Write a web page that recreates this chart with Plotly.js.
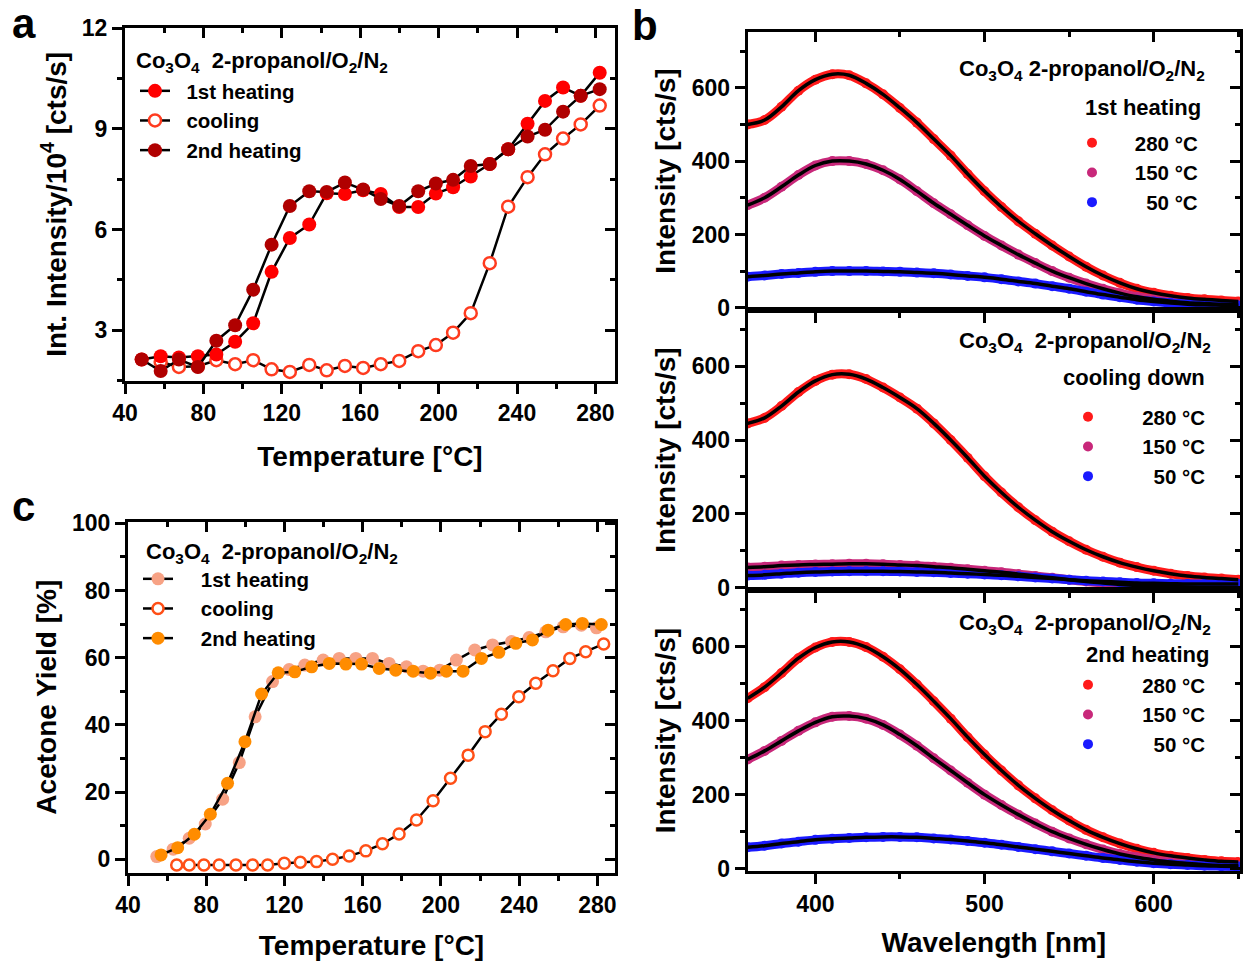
<!DOCTYPE html>
<html><head><meta charset="utf-8">
<script src="https://cdn.plot.ly/plotly-3.0.1.min.js"></script>
<style>html,body{margin:0;padding:0;background:#fff}#chart{width:1244px;height:961px}</style>
</head><body><div id="chart"></div>
<script>
// ---------- Panel a: integrated intensity (x 10^4 cts/s) ----------
const aHeat1T = [48.5, 58.2, 67.5, 77.2, 86.6, 96.2, 105.4, 114.8, 124.1, 134.0, 142.9, 152.2, 161.5, 170.5, 179.9, 189.6, 198.6, 207.4, 216.4, 226.1, 235.5, 245.4, 254.3, 263.5, 272.5, 282.2];
const aHeat1  = [2.13, 2.23, 2.19, 2.23, 2.28, 2.66, 3.21, 4.74, 5.75, 6.15, 7.08, 7.06, 7.17, 7.06, 6.67, 6.67, 7.07, 7.26, 7.58, 7.95, 8.39, 9.15, 9.83, 10.23, 9.98, 10.67];
const aHeat2T = [48.5, 58.2, 67.5, 77.2, 86.6, 96.2, 105.4, 114.8, 124.1, 134.0, 142.9, 152.2, 161.5, 170.5, 179.9, 189.6, 198.6, 207.4, 216.4, 226.1, 235.5, 245.4, 254.3, 263.5, 272.5, 282.2];
const aHeat2  = [2.13, 1.79, 2.13, 1.91, 2.69, 3.15, 4.21, 5.55, 6.70, 7.14, 7.12, 7.40, 7.19, 6.91, 6.70, 7.14, 7.37, 7.48, 7.89, 7.95, 8.39, 8.77, 8.97, 9.51, 9.98, 10.18];
const aCoolT  = [58.2, 67.5, 77.2, 86.6, 96.2, 105.4, 114.8, 124.1, 134.0, 142.9, 152.2, 161.5, 170.5, 179.9, 189.6, 198.6, 207.4, 216.4, 226.1, 235.5, 245.4, 254.3, 263.5, 272.5, 282.2];
const aCool   = [2.06, 1.91, 1.93, 2.11, 1.99, 2.11, 1.84, 1.76, 1.97, 1.81, 1.94, 1.88, 1.99, 2.09, 2.38, 2.56, 2.93, 3.51, 5.00, 6.68, 7.56, 8.24, 8.71, 9.13, 9.69];

// ---------- Panel c: acetone yield (%) ----------
const cHeat1T = [54.7, 63.1, 71.3, 79.5, 88.4, 96.9, 105.0, 113.9, 122.4, 130.4, 139.8, 148.0, 156.5, 165.0, 173.5, 182.4, 190.9, 199.4, 207.9, 217.3, 226.4, 236.1, 245.1, 253.6, 262.5, 271.8, 279.5];
const cHeat1  = [0.8, 3.0, 6.25, 10.5, 17.9, 28.8, 42.4, 52.9, 56.5, 57.8, 59.3, 59.8, 59.8, 59.8, 58.3, 57.3, 56.0, 56.3, 59.3, 62.3, 63.8, 64.8, 66.0, 67.7, 69.2, 69.7, 68.9];
const cHeat2T = [56.9, 65.4, 73.9, 82.1, 90.9, 99.8, 108.3, 116.8, 125.3, 133.9, 142.9, 151.4, 159.4, 168.4, 176.9, 185.8, 194.7, 202.8, 211.3, 220.7, 229.6, 238.3, 246.8, 254.8, 263.8, 272.3, 282.0];
const cHeat2  = [1.28, 3.45, 7.44, 13.4, 22.6, 35.0, 49.2, 55.5, 55.8, 57.3, 58.3, 58.1, 58.1, 56.8, 56.3, 56.0, 55.4, 56.0, 56.0, 59.8, 61.6, 64.3, 65.3, 68.2, 69.9, 70.2, 69.9];
const cCoolT  = [64.9, 71.3, 78.8, 86.6, 95.2, 103.7, 111.4, 119.9, 128.1, 136.4, 144.6, 153.1, 161.6, 170.1, 178.6, 187.5, 196.0, 204.9, 213.9, 222.6, 230.9, 239.8, 248.5, 257.3, 265.9, 274.0, 283.2];
const cCool   = [-1.7, -1.7, -1.7, -1.7, -1.7, -1.7, -1.7, -1.2, -0.9, -0.7, 0.0, 1.0, 2.5, 4.6, 7.5, 11.7, 17.4, 24.1, 31.0, 38.0, 43.2, 48.4, 52.4, 56.1, 59.8, 61.8, 64.1];

// ---------- Panel b: PL spectra (cts/s) ----------
const wavelength = [360, 370, 380, 390, 400, 410, 420, 430, 440, 450, 460, 470, 480, 490, 500, 510, 520, 530, 540, 550, 560, 570, 580, 590, 600, 610, 620, 630, 640, 650];
const b1_280 = [500, 512, 548, 592, 622, 637, 634, 612, 582, 545, 505, 460, 415, 365, 318, 275, 236, 202, 170, 140, 112, 88, 68, 52, 41, 33, 27, 23, 20, 17];
const b1_150 = [280, 300, 330, 362, 388, 400, 400, 392, 375, 350, 318, 285, 255, 225, 196, 170, 145, 122, 100, 82, 66, 52, 40, 30, 23, 18, 14, 12, 10, 9];
const b1_50  = [85, 88, 92, 95, 98, 100, 100, 100, 99, 98, 96, 94, 91, 87, 83, 78, 72, 66, 59, 52, 44, 36, 29, 22, 17, 13, 10, 8, 7, 6];
const b2_280 = [445, 460, 492, 530, 560, 577, 578, 565, 542, 515, 485, 445, 400, 352, 302, 258, 218, 183, 152, 126, 103, 84, 68, 56, 46, 38, 32, 28, 25, 22];
const b2_150 = [55, 57, 60, 62, 63, 64, 65, 65, 64, 62, 60, 57, 54, 50, 46, 42, 37, 32, 27, 22, 17, 13, 9, 6, 4, 3, 2, 1, 1, 0];
const b2_50  = [33, 35, 38, 41, 43, 44, 45, 45, 45, 44, 43, 42, 40, 38, 36, 34, 31, 28, 25, 22, 19, 17, 15, 13, 12, 11, 10, 10, 10, 10];
const b3_280 = [460, 490, 528, 568, 597, 612, 612, 598, 572, 538, 497, 452, 405, 355, 308, 265, 225, 190, 158, 130, 105, 85, 68, 54, 43, 35, 29, 24, 20, 18];
const b3_150 = [295, 318, 345, 372, 395, 410, 412, 405, 388, 362, 332, 298, 265, 232, 200, 172, 146, 122, 100, 82, 66, 52, 40, 31, 24, 18, 14, 11, 9, 8];
const b3_50  = [58, 62, 68, 73, 78, 81, 83, 85, 86, 86, 85, 82, 79, 75, 70, 65, 59, 53, 47, 41, 35, 29, 24, 19, 15, 12, 10, 8, 7, 6];

const seriesNames = ['1st heating', 'cooling', '2nd heating'];
const tempLabels = ['280 °C', '150 °C', '50 °C'];

// ---------- helpers ----------
const W = 1244, H = 961;
const px = v => v / W, py = v => 1 - v / H;
const FONT = 'Liberation Sans, Arial, Helvetica, sans-serif';
const fnt = (s, c) => ({family: FONT, size: s, color: c || '#000', weight: 'bold'});
const NB = '\u00a0';
const nb = n => NB.repeat(n);
const LEGF = 20.5;

function baseAx(o) {
  const a = {
    range: o.range, autorange: false, tickmode: 'linear', tick0: o.tick0, dtick: o.dtick,
    ticks: 'outside', ticklen: 10, tickwidth: 3, tickcolor: '#000',
    minor: {tick0: o.tick0, dtick: o.mdtick, ticks: 'outside', ticklen: 5, tickwidth: 3, tickcolor: '#000'},
    showline: true, linewidth: 3, linecolor: '#000', showgrid: false, zeroline: false,
    domain: o.domain, anchor: o.anchor, showticklabels: o.labels !== false,
    tickfont: fnt(23), fixedrange: true
  };
  if (o.title) a.title = {text: o.title, font: fnt(28), standoff: o.standoff || 8};
  return a;
}
function overAx(o, over, anchor, side) {
  return {
    range: o.range, autorange: false, tickmode: 'linear', tick0: o.tick0, dtick: o.dtick,
    ticks: 'inside', ticklen: 10, tickwidth: 3, tickcolor: '#000',
    minor: {tick0: o.tick0, dtick: o.mdtick, ticks: 'inside', ticklen: 5, tickwidth: 3, tickcolor: '#000'},
    showline: true, linewidth: 3, linecolor: '#000', showgrid: false, zeroline: false,
    overlaying: over, anchor: anchor, side: side, showticklabels: false, fixedrange: true
  };
}

const layout = {
  width: W, height: H, margin: {l: 0, r: 0, t: 0, b: 0},
  paper_bgcolor: '#fff', plot_bgcolor: 'rgba(0,0,0,0)',
  font: fnt(22), hovermode: false, showlegend: true,
  annotations: []
};

// axis specs
const axA_x = {range: [40, 290], tick0: 40, dtick: 40, mdtick: 20, domain: [px(125), px(615)], anchor: 'y', title: 'Temperature [°C]', standoff: 22};
const axA_y = {range: [1.5, 12], tick0: 0, dtick: 3, mdtick: 1.5, domain: [py(380.7), py(28)], anchor: 'x', title: 'Int. Intensity/10<sup>4</sup> [cts/s]'};
const axC_x = {range: [40, 289], tick0: 40, dtick: 40, mdtick: 20, domain: [px(128), px(615)], anchor: 'y3', title: 'Temperature [°C]', standoff: 19};
const axC_y = {range: [-4, 100.5], tick0: 0, dtick: 20, mdtick: 10, domain: [py(872.7), py(521.7)], anchor: 'x3', title: 'Acetone Yield [%]'};
layout.xaxis = baseAx(axA_x); layout.yaxis = baseAx(axA_y);
layout.xaxis2 = overAx(axA_x, 'x', 'y', 'top'); layout.yaxis2 = overAx(axA_y, 'y', 'x', 'right');
layout.xaxis3 = baseAx(axC_x); layout.yaxis3 = baseAx(axC_y);
layout.xaxis4 = overAx(axC_x, 'x3', 'y3', 'top'); layout.yaxis4 = overAx(axC_y, 'y3', 'x3', 'right');

// overlay axes (top / right frame with inward ticks) need a subplot to be drawn
const frameHosts = [['x2', 'y'], ['x', 'y2'], ['x4', 'y3'], ['x3', 'y4']];

const bDomains = [[py(310), py(32)], [py(590), py(310)], [py(871), py(590)]];
for (let i = 0; i < 3; i++) {
  const xi = 5 + 2 * i, yi = 5 + 2 * i;
  const ax = {range: [360, 651], tick0: 0, dtick: 100, mdtick: 50, domain: [px(747.7), px(1240)], anchor: 'y' + yi,
              labels: i === 2, title: i === 2 ? 'Wavelength [nm]' : null, standoff: 17};
  const ay = {range: [-6, 752], tick0: 0, dtick: 200, mdtick: 100, domain: bDomains[i], anchor: 'x' + xi, title: 'Intensity [cts/s]'};
  layout['xaxis' + xi] = baseAx(ax);
  layout['yaxis' + yi] = baseAx(ay);
  layout['xaxis' + (xi + 1)] = overAx(ax, 'x' + xi, 'y' + yi, 'top');
  layout['yaxis' + (yi + 1)] = overAx(ay, 'y' + yi, 'x' + xi, 'right');
  frameHosts.push(['x' + (xi + 1), 'y' + yi], ['x' + xi, 'y' + (yi + 1)]);
}

// legends
const legBase = {xanchor: 'left', yanchor: 'top', font: fnt(LEGF), bgcolor: 'rgba(0,0,0,0)', borderwidth: 0,
                 tracegroupgap: 0, itemclick: false, itemdoubleclick: false, traceorder: 'normal'};
layout.legend  = Object.assign({}, legBase, {x: px(135), y: py(71)});
layout.legend2 = Object.assign({}, legBase, {x: px(138), y: py(559)});
layout.legend3 = Object.assign({}, legBase, {x: px(1072), y: py(123)});
layout.legend4 = Object.assign({}, legBase, {x: px(1068), y: py(397)});
layout.legend5 = Object.assign({}, legBase, {x: px(1068), y: py(665)});

// annotations
const header = 'Co<sub>3</sub>O<sub>4</sub>' + nb(2) + '2-propanol/O<sub>2</sub>/N<sub>2</sub>';
const header1 = 'Co<sub>3</sub>O<sub>4</sub> 2-propanol/O<sub>2</sub>/N<sub>2</sub>';
function ann(text, x, y, xa, size) {
  layout.annotations.push({text: text, x: px(x), y: py(y), xref: 'paper', yref: 'paper',
    xanchor: xa, yanchor: 'middle', showarrow: false, font: fnt(size || 22)});
}
ann('a', 10, 24, 'left', 42);
ann('b', 630, 26, 'left', 42);
ann('c', 10, 506, 'left', 42);
ann(header, 134, 62, 'left');
ann(header, 144, 553, 'left');
ann(header1, 1207, 70, 'right');
ann('1st heating', 1203, 107, 'right');
ann(header, 1213, 342, 'right');
ann('cooling down', 1207, 377, 'right');
ann(header, 1213, 624, 'right');
ann('2nd heating', 1211, 654, 'right');

// ---------- traces ----------
const traces = [];
frameHosts.forEach(h => traces.push({x: [null], y: [null], xaxis: h[0], yaxis: h[1], mode: 'markers', showlegend: false}));

// panel a
traces.push({x: aCoolT, y: aCool, xaxis: 'x', yaxis: 'y', mode: 'lines+markers', name: nb(2) + seriesNames[1],
  line: {color: '#000', width: 2.5}, marker: {color: '#fff', size: 12, line: {color: '#ff3b1f', width: 2.5}},
  legend: 'legend', legendrank: 2});
traces.push({x: aHeat1T, y: aHeat1, xaxis: 'x', yaxis: 'y', mode: 'lines+markers', name: nb(2) + seriesNames[0],
  line: {color: '#000', width: 2.5}, marker: {color: '#ff0000', size: 14}, legend: 'legend', legendrank: 1});
traces.push({x: aHeat2T, y: aHeat2, xaxis: 'x', yaxis: 'y', mode: 'lines+markers', name: nb(2) + seriesNames[2],
  line: {color: '#000', width: 2.5}, marker: {color: '#b00000', size: 14}, legend: 'legend', legendrank: 3});
// panel c
traces.push({x: cCoolT, y: cCool, xaxis: 'x3', yaxis: 'y3', mode: 'lines+markers', name: nb(4) + seriesNames[1],
  line: {color: '#000', width: 2.5}, marker: {color: '#fff', size: 11, line: {color: '#ff4f16', width: 2.5}},
  legend: 'legend2', legendrank: 2});
traces.push({x: cHeat1T, y: cHeat1, xaxis: 'x3', yaxis: 'y3', mode: 'lines+markers', name: nb(4) + seriesNames[0],
  line: {color: '#000', width: 2.5}, marker: {color: '#f7a285', size: 13}, legend: 'legend2', legendrank: 1});
traces.push({x: cHeat2T, y: cHeat2, xaxis: 'x3', yaxis: 'y3', mode: 'lines+markers', name: nb(4) + seriesNames[2],
  line: {color: '#000', width: 2.5}, marker: {color: '#ff8c00', size: 13}, legend: 'legend2', legendrank: 3});

// panel b
const bColors = ['#ff1a1a', '#c8287a', '#1a1aff'];
const bSets = [[b1_280, b1_150, b1_50], [b2_280, b2_150, b2_50], [b3_280, b3_150, b3_50]];
const bLegends = ['legend3', 'legend4', 'legend5'];
const bPad = [4, 6, 6];
for (let i = 0; i < 3; i++) {
  const xa = 'x' + (5 + 2 * i), ya = 'y' + (5 + 2 * i);
  for (let k = 0; k < 3; k++) {
    traces.push({x: wavelength, y: bSets[i][k], xaxis: xa, yaxis: ya, mode: 'lines', showlegend: false,
      line: {color: bColors[k], width: 9, shape: 'spline', smoothing: 1}});
    traces.push({x: wavelength, y: bSets[i][k], xaxis: xa, yaxis: ya, mode: 'markers',
      name: nb(bPad[i] + (k === 2 ? 2 : 0)) + tempLabels[k],
      marker: {color: bColors[k], size: 10}, legend: bLegends[i], legendrank: k + 1});
  }
  for (let k = 0; k < 3; k++) {
    traces.push({x: wavelength, y: bSets[i][k], xaxis: xa, yaxis: ya, mode: 'lines', showlegend: false,
      line: {color: '#000', width: 3.5, shape: 'spline', smoothing: 1}});
  }
}

Plotly.newPlot('chart', traces, layout, {staticPlot: true, displayModeBar: false});
</script>
</body></html>
